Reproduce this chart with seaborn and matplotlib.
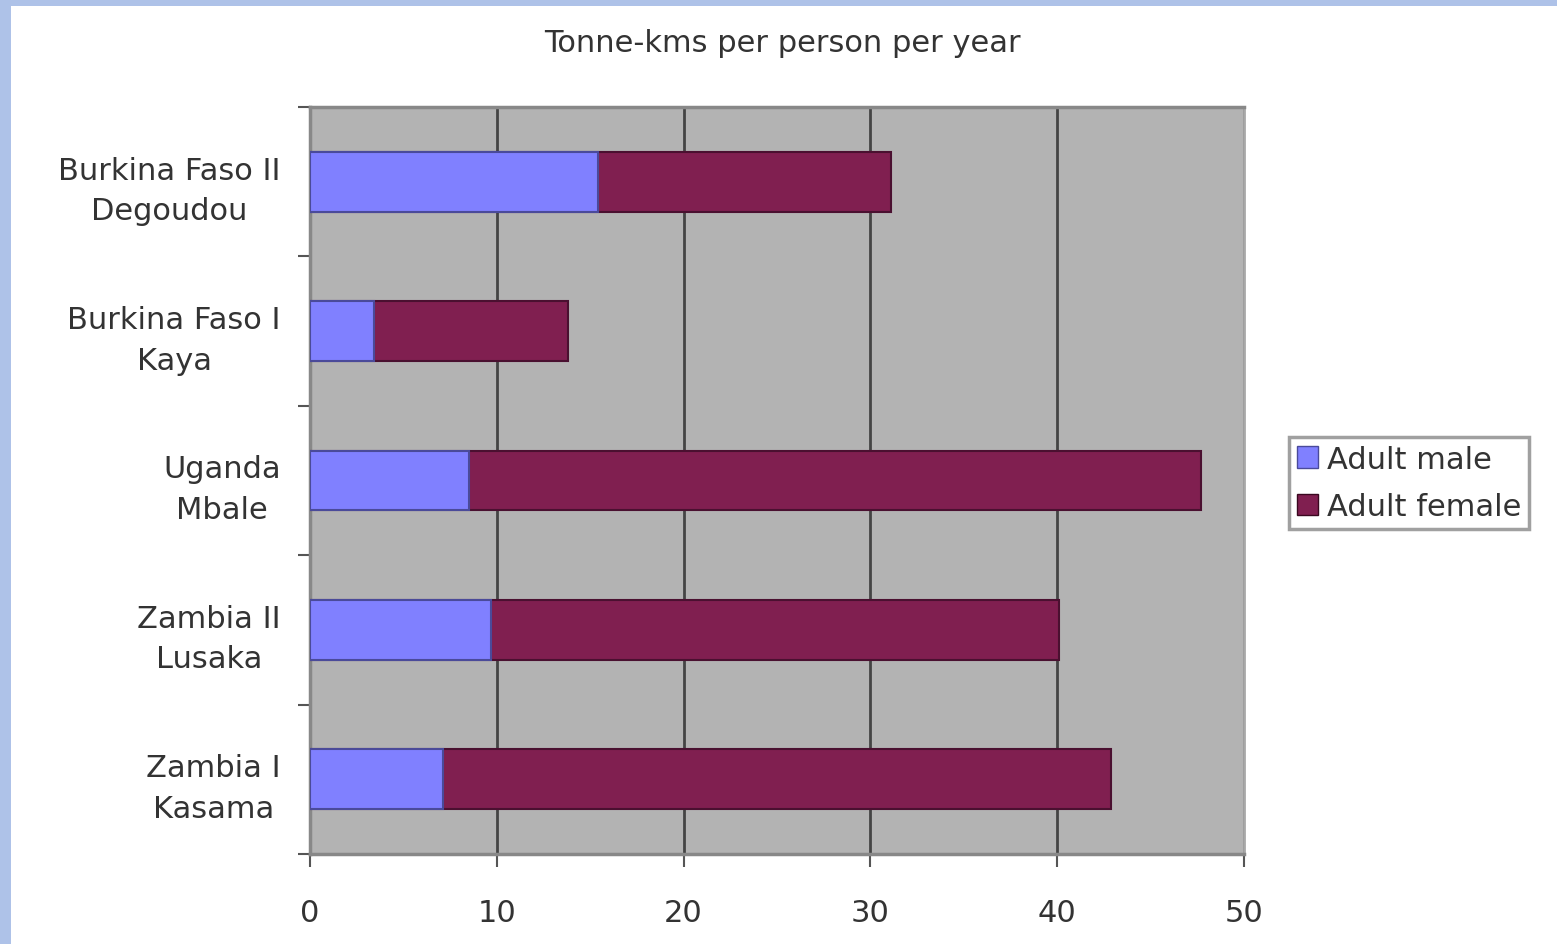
import matplotlib
matplotlib.use("Agg")
import matplotlib.pyplot as plt
import matplotlib.patches as mpatches
import pandas as pd
import seaborn as sns

# Data
sites = ["Burkina Faso II\nDegoudou", "Burkina Faso I\nKaya", "Uganda\nMbale",
         "Zambia II\nLusaka", "Zambia I\nKasama"]
adult_male = [15.4, 3.4, 8.5, 9.7, 7.1]
adult_female = [15.7, 10.4, 39.2, 30.4, 35.8]

df = pd.DataFrame({"site": sites, "male": adult_male, "female": adult_female})
df["total"] = df["male"] + df["female"]

male_col = "#8080ff"
female_col = "#801f50"

sns.set_style("white")
plt.rcParams["font.family"] = ["DejaVu Sans"]

fig = plt.figure(figsize=(15.57, 9.45), dpi=100, facecolor="#aec2e8")
# white panel inside the blue frame
fig.patches.append(mpatches.Rectangle((11 / 1557, 0), 1 - 11 / 1557, 1 - 7 / 945,
                                      transform=fig.transFigure, facecolor="white",
                                      edgecolor="none", zorder=-10))
ax = fig.add_axes([310 / 1557, 90 / 945, 934 / 1557, 747 / 945])
ax.set_zorder(1)
ax.set_facecolor("#b3b3b3")

# stacked bars: totals in female colour, male part drawn over it
sns.barplot(data=df, x="total", y="site", color=female_col, width=0.4,
            edgecolor="#4a1030", linewidth=1.5, saturation=1, ax=ax, zorder=3)
sns.barplot(data=df, x="male", y="site", color=male_col, width=0.4,
            edgecolor="#4a4a9a", linewidth=1.5, saturation=1, ax=ax, zorder=4)

ax.set_xlim(0, 50)
ax.set_ylim(4.5, -0.5)
ax.set_xticks([0, 10, 20, 30, 40, 50])
ax.set_xticklabels(["0", "10", "20", "30", "40", "50"])
ax.xaxis.grid(True, color="#444444", linewidth=2, zorder=1)
ax.set_axisbelow(True)

ax.tick_params(axis="x", bottom=True, length=9, width=1.5, color="#555555", pad=23,
               labelsize=22, labelcolor="#333333")
ax.tick_params(axis="y", which="major", left=False, length=0, pad=21, labelsize=22,
               labelcolor="#333333")
ax.set_yticks([-0.5, 0.5, 1.5, 2.5, 3.5, 4.5], minor=True)
ax.tick_params(axis="y", which="minor", left=True, length=9, width=1.5, color="#555555")
for lab in ax.get_yticklabels():
    lab.set_multialignment("center")
    lab.set_linespacing(1.5)

for side in ["left", "top", "bottom"]:
    ax.spines[side].set_color("#888888")
    ax.spines[side].set_linewidth(2.5)
ax.spines["right"].set_color("#a8a8a8")
ax.spines["right"].set_linewidth(2)

ax.set_xlabel("")
ax.set_ylabel("")

fig.text(782 / 1557, 1 - 44 / 945, "Tonne-kms per person per year", ha="center",
         va="center", fontsize=22, color="#333333")

handles = [mpatches.Patch(facecolor=male_col, edgecolor="#4a4a9a", label="Adult male"),
           mpatches.Patch(facecolor=female_col, edgecolor="#3a0820", label="Adult female")]
leg = fig.legend(handles=handles, loc="center left", bbox_to_anchor=(1289 / 1557, 1 - 484 / 945),
                 fontsize=22, frameon=True, fancybox=False, handlelength=0.7,
                 handleheight=0.7, handletextpad=0.3, borderpad=0.25, labelspacing=0.6,
                 borderaxespad=0)
leg.get_frame().set_edgecolor("#888888")
leg.get_frame().set_linewidth(2.5)
for t in leg.get_texts():
    t.set_color("#333333")

fig.savefig("out.png", dpi=100, facecolor=fig.get_facecolor())
